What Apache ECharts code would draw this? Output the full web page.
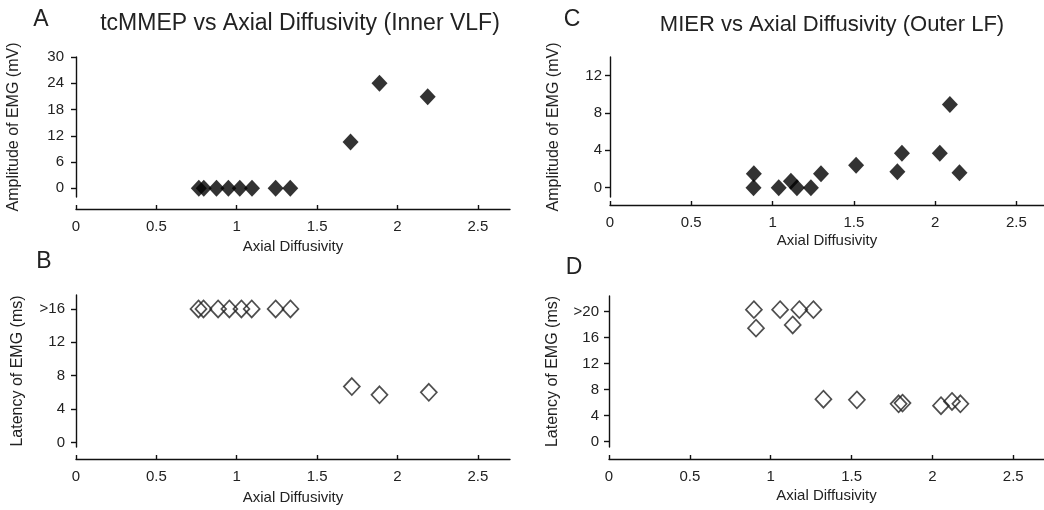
<!DOCTYPE html>
<html>
<head>
<meta charset="utf-8">
<script src="https://cdn.jsdelivr.net/npm/echarts@6/dist/echarts.min.js"></script>
<style>
  html, body { margin: 0; padding: 0; background: #fff; }
  #main { width: 1044px; height: 510px; }
</style>
</head>
<body>
<div id="main"></div>
<script>
// 数据
const xTicks = [0, 0.5, 1, 1.5, 2, 2.5];

// A: tcMMEP 幅值
const axialA = [0.764, 0.795, 0.874, 0.948, 1.019, 1.095, 1.242, 1.333, 1.708, 1.888, 2.188];
const ampA = [0, 0, 0, 0, 0, 0, 0, 0, 10.6, 24.0, 20.9];
const yTicksA = [0, 6, 12, 18, 24, 30];

// B: tcMMEP 潜伏期
const axialB = [0.762, 0.793, 0.884, 0.954, 1.029, 1.093, 1.242, 1.334, 1.716, 1.888, 2.195];
const latB = [16, 16, 16, 16, 16, 16, 16, 16, 6.7, 5.7, 6.0];
const yTicksB = [0, 4, 8, 12, 16];
const yLabelsB = ['0', '4', '8', '12', '>16'];

// C: MIER 幅值
const axialC = [0.885, 0.883, 1.038, 1.113, 1.150, 1.236, 1.298, 1.514, 1.768, 1.796, 2.029, 2.091, 2.150];
const ampC = [1.5, 0, 0, 0.7, 0, 0, 1.5, 2.4, 1.7, 3.7, 3.7, 8.9, 1.6];
const yTicksC = [0, 4, 8, 12];

// D: MIER 潜伏期
const axialD = [0.896, 0.909, 1.058, 1.136, 1.177, 1.264, 1.326, 1.533, 1.791, 1.815, 2.053, 2.121, 2.173];
const latD = [20.3, 17.45, 20.3, 17.95, 20.3, 20.3, 6.5, 6.4, 5.8, 5.9, 5.5, 6.15, 5.8];
const yTicksD = [0, 4, 8, 12, 16, 20];
const yLabelsD = ['0', '4', '8', '12', '16', '>20'];

const FONT = 'Liberation Sans, Arial, sans-serif';
const TXT = '#222';

function zip(xs, ys) {
  return xs.map((x, i) => [x, ys[i]]);
}

// x 轴（与 y 轴分离，刻度朝上）
function makeX(gridIndex, max, offset, nameGap) {
  return {
    type: 'value',
    gridIndex: gridIndex,
    min: 0,
    max: max,
    offset: offset,
    name: 'Axial Diffusivity',
    nameLocation: 'middle',
    nameGap: nameGap,
    nameTextStyle: { color: TXT, fontSize: 15, fontFamily: FONT },
    axisLine: { show: true, onZero: false, lineStyle: { color: '#111', width: 1.4 } },
    axisTick: { show: true, inside: true, length: 4, customValues: xTicks, lineStyle: { color: '#111', width: 1.4 } },
    axisLabel: { color: TXT, fontSize: 15, fontFamily: FONT, margin: 10, customValues: xTicks },
    splitLine: { show: false }
  };
}

function makeY(gridIndex, min, max, ticks, labels, name, nameGap, margin) {
  return {
    type: 'value',
    gridIndex: gridIndex,
    min: min,
    max: max,
    name: name,
    nameLocation: 'middle',
    nameGap: nameGap,
    nameTextStyle: { color: TXT, fontSize: 16, fontFamily: FONT },
    axisLine: { show: true, onZero: false, lineStyle: { color: '#111', width: 1.4 } },
    axisTick: { show: true, length: 5, customValues: ticks, lineStyle: { color: '#111', width: 1.4 } },
    axisLabel: {
      color: TXT, fontSize: 15, fontFamily: FONT, margin: margin,
      customValues: ticks,
      formatter: function (v) {
        const i = ticks.indexOf(v);
        return labels ? labels[i] : String(v);
      }
    },
    splitLine: { show: false }
  };
}

function textEl(x, y, text, size) {
  return {
    type: 'text',
    x: x,
    y: y,
    style: {
      text: text,
      fill: TXT,
      font: size + 'px ' + FONT,
      textAlign: 'center',
      textVerticalAlign: 'middle'
    }
  };
}

const filled = {
  type: 'scatter',
  symbol: 'diamond',
  symbolSize: [16, 17],
  itemStyle: { color: '#000' }
};
const hollow = {
  type: 'scatter',
  symbol: 'diamond',
  symbolSize: [16, 17],
  itemStyle: { color: 'rgba(0,0,0,0)', borderColor: '#222', borderWidth: 1.7 }
};

const chart = echarts.init(document.getElementById('main'), null, { renderer: 'canvas' });

const option = {
  animation: false,
  backgroundColor: '#fff',
  grid: [
    { left: 76, top: 57, width: 434, height: 140 },
    { left: 76, top: 295, width: 434, height: 152 },
    { left: 610, top: 57, width: 434, height: 140 },
    { left: 609, top: 296, width: 435, height: 151 }
  ],
  xAxis: [
    makeX(0, 2.7, 12, 30),
    makeX(1, 2.7, 12, 31),
    makeX(2, 2.67, 8, 28),
    makeX(3, 2.69, 12, 29)
  ],
  yAxis: [
    makeY(0, -2, 30, yTicksA, null, 'Amplitude of EMG (mV)', 54, 12),
    makeY(1, -0.55, 17.67, yTicksB, yLabelsB, 'Latency of EMG (ms)', 50, 11),
    makeY(2, -1, 14, yTicksC, null, 'Amplitude of EMG (mV)', 48, 8),
    makeY(3, -0.86, 22.4, yTicksD, yLabelsD, 'Latency of EMG (ms)', 48, 10)
  ],
  graphic: [
    textEl(41, 20, 'A', 23),
    textEl(44, 262, 'B', 23),
    textEl(572, 20, 'C', 23),
    textEl(574, 268, 'D', 23),
    textEl(300, 24, 'tcMMEP vs Axial Diffusivity (Inner VLF)', 23),
    textEl(832, 25, 'MIER vs Axial Diffusivity (Outer LF)', 22)
  ],
  series: [
    Object.assign({}, filled, { xAxisIndex: 0, yAxisIndex: 0, data: zip(axialA, ampA) }),
    Object.assign({}, hollow, { xAxisIndex: 1, yAxisIndex: 1, data: zip(axialB, latB) }),
    Object.assign({}, filled, { xAxisIndex: 2, yAxisIndex: 2, data: zip(axialC, ampC) }),
    Object.assign({}, hollow, { xAxisIndex: 3, yAxisIndex: 3, data: zip(axialD, latD) })
  ]
};

chart.setOption(option);
</script>
</body>
</html>
